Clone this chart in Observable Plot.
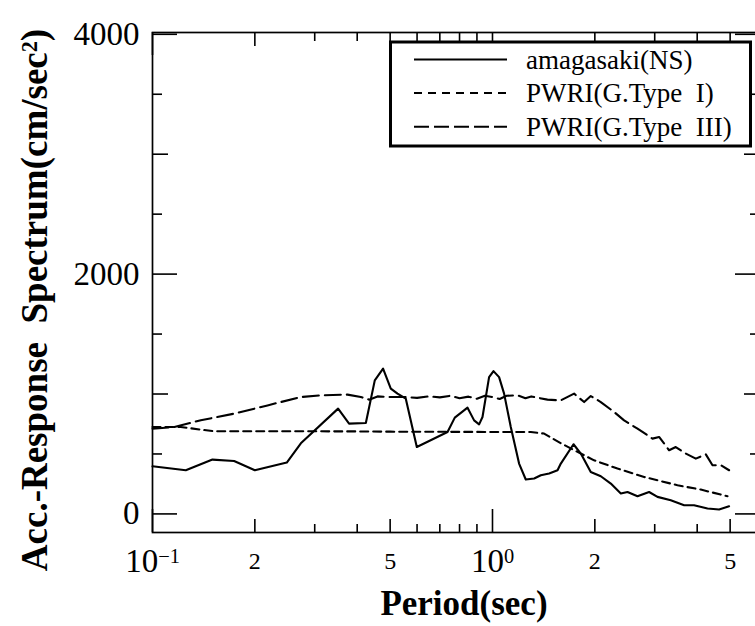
<!DOCTYPE html>
<html><head><meta charset="utf-8">
<script src="https://cdn.jsdelivr.net/npm/d3@7"></script>
<script src="https://cdn.jsdelivr.net/npm/@observablehq/plot@0.6"></script>
<style>
html,body{margin:0;padding:0;background:#fff;overflow:hidden;}
#wrap{position:relative;width:755px;height:626px;overflow:hidden;background:#fff;}
#wrap svg{max-width:none !important;}
</style></head><body><div id="wrap"></div>
<script>
// ---- data (period in sec, acceleration response in cm/sec^2) ----
const periodNS = [0.1, 0.1253, 0.1501, 0.1738, 0.2, 0.2483, 0.2731, 0.3515, 0.3786, 0.4241, 0.4506, 0.4766, 0.5022, 0.5256, 0.5559, 0.599, 0.7375, 0.7747, 0.8445, 0.883, 0.9133, 0.9346, 0.9772, 1.0068, 1.0457, 1.0817, 1.1319, 1.1973, 1.2528, 1.3259, 1.3874, 1.4676, 1.5535, 1.5885, 1.7309, 1.8188, 1.9456, 2.0826, 2.2284, 2.3847, 2.4952, 2.67, 2.888, 3.057, 3.3444, 3.6611, 3.9164, 4.2907, 4.6396, 4.9646];
const accNS = [397, 364, 453, 441, 364, 428, 589, 878, 753, 758, 1114, 1211, 1045, 1003, 961, 558, 683, 803, 886, 780, 747, 808, 1141, 1191, 1141, 1003, 725, 420, 287, 295, 322, 337, 364, 420, 581, 503, 350, 314, 253, 170, 183, 147, 183, 142, 114, 72, 72, 45, 37, 64];

const periodI = [0.1, 0.1211, 0.1387, 0.1518, 0.2, 0.3, 0.4, 0.5, 0.6, 0.7, 0.8, 0.9, 1.0, 1.1069, 1.2961, 1.4183, 1.5885, 1.7783, 1.9897, 2.3316, 2.7925, 3.5004, 4.0988, 4.9111];
const accI = [725, 725, 703, 689, 689, 689, 688, 686, 685, 685, 684, 684, 683, 683, 683, 670, 590, 517, 447, 378, 308, 239, 203, 147];

const periodIII = [0.1, 0.1158, 0.1387, 0.1738, 0.2179, 0.2731, 0.3126, 0.3746, 0.4099, 0.4336, 0.4589, 0.5022, 0.55, 0.6, 0.65, 0.7, 0.75, 0.8, 0.85, 0.9, 0.95, 1.0, 1.05, 1.1, 1.1846, 1.25, 1.3, 1.451, 1.5885, 1.7378, 1.8603, 1.9456, 2.0826, 2.2785, 2.4384, 2.67, 2.9553, 3.0903, 3.3073, 3.4599, 3.7034, 3.9628, 4.2407, 4.4371, 4.6942, 4.9646];
const accIII = [710, 725, 781, 836, 905, 975, 989, 995, 975, 953, 980, 975, 975, 968, 980, 972, 985, 965, 978, 960, 985, 975, 958, 985, 989, 965, 980, 953, 947, 1003, 933, 983, 933, 850, 780, 711, 628, 642, 531, 558, 503, 461, 497, 406, 406, 364];

const seriesNames = ["amagasaki(NS)", "PWRI(G.Type  I)", "PWRI(G.Type  III)"];

// ticks
const xDecadeTicks = [0.1, 1];
const xMidTicks = [0.2, 0.5, 2, 5];
const xMinorTicks = [0.3, 0.4, 0.6, 0.7, 0.8, 0.9, 3, 4];
const yMajorTicks = [0, 2000, 4000];
const yMidTicks = [1000, 3000];
const yMinorTicks = [500, 1500, 2500, 3500];
const xDecadeLabels = ["10^\u22121", "10^0"];
const xMidLabels = ["2", "5", "2", "5"];

const toRows = (xs, ys) => xs.map((p, i) => ({period: p, acc: ys[i]}));
const ns = toRows(periodNS, accNS);
const t1 = toRows(periodI, accI);
const t3 = toRows(periodIII, accIII);

const font = "'Liberation Serif', 'Times New Roman', serif";
const H = 626, MT = 32, MB = 94, FH = H - MT - MB;
const xtk = (ticks, where, size) => Plot.tickX(ticks, {x: d => d, stroke: "#000", strokeWidth: 1.6,
  insetTop: where === "bottom" ? FH - size : 0, insetBottom: where === "top" ? FH - size : 0});
const ytk = (ticks, anchor, size) =>
  Plot.axisY(ticks, {anchor, tickSize: -size, fill: "none", strokeWidth: 1.6, label: null});

const chart = Plot.plot({
  width: 770, height: H,
  marginLeft: 152, marginRight: 11, marginTop: MT, marginBottom: MB,
  style: {fontFamily: font, color: "#000", background: "#fff", overflow: "visible", maxWidth: "none"},
  x: {type: "log", domain: [0.1, 6.1]},
  y: {domain: [-155, 4015]},
  marks: [
    Plot.frame({strokeWidth: 1.7}),
    xtk(xDecadeTicks, "bottom", 23), xtk(xMidTicks, "bottom", 13), xtk(xMinorTicks, "bottom", 8),
    xtk(xDecadeTicks, "top", 23), xtk(xMidTicks, "top", 14), xtk(xMinorTicks, "top", 9),
    ytk(yMajorTicks, "left", 25), ytk(yMidTicks, "left", 16), ytk(yMinorTicks, "left", 10),
    ytk(yMajorTicks, "right", 25), ytk(yMidTicks, "right", 16), ytk(yMinorTicks, "right", 10),
    Plot.axisX(xDecadeTicks, {anchor: "bottom", tickSize: 0, tickPadding: 16, fontSize: 33, label: null,
      tickFormat: (d) => xDecadeLabels[xDecadeTicks.indexOf(d)]}),
    Plot.axisX(xMidTicks, {anchor: "bottom", tickSize: 0, tickPadding: 19, fontSize: 24, label: null,
      tickFormat: (d) => xMidLabels[xMidTicks.indexOf(d)]}),
    Plot.axisY(yMajorTicks, {anchor: "left", tickSize: 0, tickPadding: 13, fontSize: 33, label: null,
      tickFormat: d => String(d)}),
    Plot.line(t3, {x: "period", y: "acc", stroke: "#000", strokeWidth: 2.1, strokeDasharray: "16,6"}),
    Plot.line(t1, {x: "period", y: "acc", stroke: "#000", strokeWidth: 2.1, strokeDasharray: "8,5"}),
    Plot.line(ns, {x: "period", y: "acc", stroke: "#000", strokeWidth: 2.1})
  ]
});
chart.style.maxWidth = "none";
chart.style.width = "770px";
chart.style.height = H + "px";

document.getElementById("wrap").appendChild(chart);
const svg = d3.select(chart);

// superscripts in decade labels
svg.selectAll("text").each(function() {
  const s = this.textContent;
  if (s.includes("^")) {
    const [base, sup] = s.split("^");
    const t = d3.select(this);
    t.text(base);
    t.append("tspan").attr("dy", "-0.45em").attr("font-size", "62%").text(sup);
  }
});

// axis titles
svg.append("text").attr("x", 464).attr("y", 615).attr("text-anchor", "middle")
  .attr("font-weight", "bold").attr("font-size", 35).attr("font-family", font).text("Period(sec)");
const yl = svg.append("text").attr("transform", "translate(47,300) rotate(-90)")
  .attr("text-anchor", "middle").attr("font-weight", "bold").attr("font-size", 37)
  .attr("font-family", font).style("white-space", "pre");
yl.append("tspan").text("Acc.-Response  Spectrum(cm/sec");
yl.append("tspan").attr("dy", "-0.45em").attr("font-size", "60%").text("2");
yl.append("tspan").attr("dy", "0.27em").text(")");

// legend
const lg = svg.append("g").attr("font-family", font).attr("font-size", 27).attr("text-anchor", "start");
lg.append("rect").attr("x", 390.5).attr("y", 42).attr("width", 360).attr("height", 104)
  .attr("fill", "#fff").attr("stroke", "#000").attr("stroke-width", 3);
const dashes = [null, "8,6", "15,5"];
seriesNames.forEach((name, i) => {
  const cy = 59.5 + i * 33.6;
  lg.append("line").attr("x1", 414).attr("x2", 507).attr("y1", cy).attr("y2", cy)
    .attr("stroke", "#000").attr("stroke-width", 2).attr("stroke-dasharray", dashes[i]);
  lg.append("text").attr("x", 526).attr("y", cy + 9).attr("text-anchor", "start")
    .style("white-space", "pre").text(name);
});
</script></body></html>
